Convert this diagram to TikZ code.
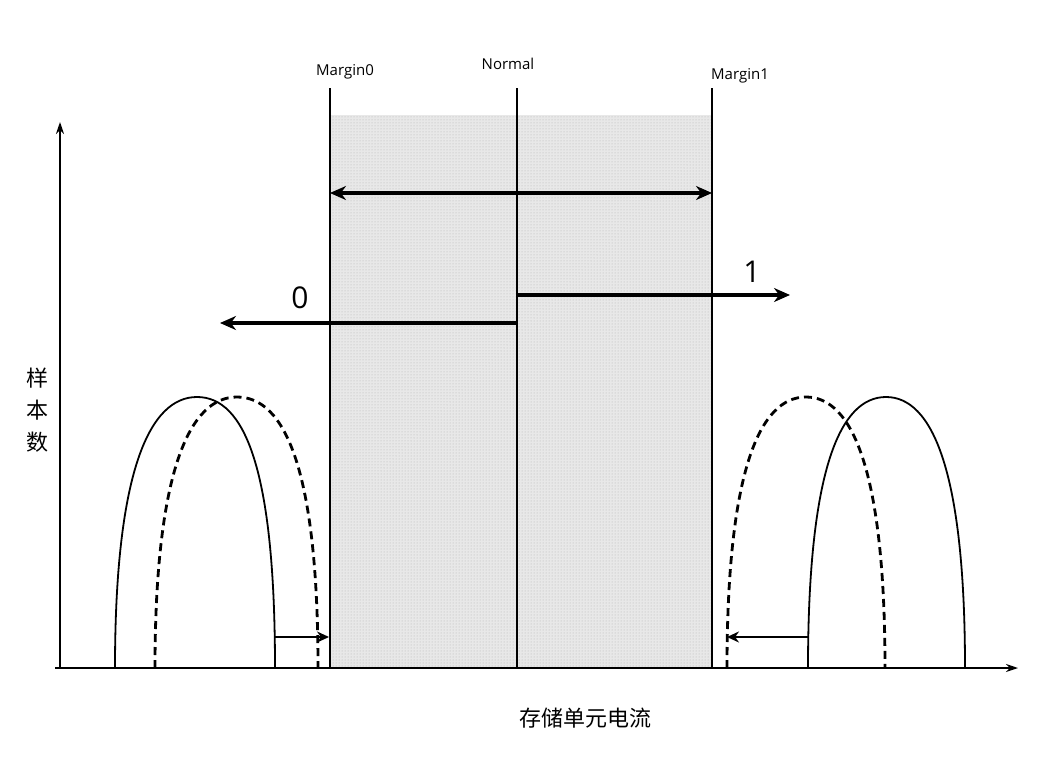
\documentclass[tikz,border=0pt]{standalone}
\usepackage{fontspec}
\setmainfont{Open Sans}
\newfontfamily\cjk{Noto Sans CJK SC}
\usetikzlibrary{arrows.meta,patterns}
\begin{document}
\begin{tikzpicture}[x=1pt,y=-1pt,
  ax/.style={line width=1.6pt,-{Stealth[length=12pt,width=8pt]}},
  vl/.style={line width=1.6pt},
  fat/.style={line width=3.5pt},
  cv/.style={line width=1.8pt},
  dcv/.style={line width=2.8pt,dash pattern=on 8pt off 5pt},
  lab/.style={font=\fontsize{15}{17}\selectfont}]
\useasboundingbox (0,0) rectangle (1044,768);
\fill[gray!18] (330,115) rectangle (712,668);
\fill[pattern=dots,pattern color=gray!60] (330,115) rectangle (712,668);
\coordinate (o) at (60,668);
\coordinate (ytop) at (60,122);
\coordinate (xl) at (55,668);
\coordinate (xr) at (1018,668);
\draw[ax] (o) -- (ytop);
\draw[ax] (xl) -- (xr);
\coordinate (m0t) at (330,88); \coordinate (m0b) at (330,668);
\coordinate (nt) at (517,88); \coordinate (nb) at (517,668);
\coordinate (m1t) at (712,88); \coordinate (m1b) at (712,668);
\draw[vl] (m0t)--(m0b); \draw[vl] (nt)--(nb); \draw[vl] (m1t)--(m1b);
\node[lab] (lm0) at (345,72) {Margin0};
\node[lab] (ln) at (508,64) {Normal};
\node[lab] (lm1) at (740,76) {Margin1};
\coordinate (da) at (330,193); \coordinate (db) at (712,193);
\draw[fat,{Stealth[length=16pt,width=14pt]}-{Stealth[length=16pt,width=14pt]}] (da)--(db);
\coordinate (r1) at (517,295); \coordinate (r2) at (790,295);
\coordinate (l1) at (517,323); \coordinate (l2) at (220,323);
\draw[fat,-{Stealth[length=16pt,width=14pt]}] (l1) -- (l2);
\draw[fat,-{Stealth[length=16pt,width=14pt]}] (r1)--(r2);
\draw[vl] (l1)--(r1);
\node[font=\fontsize{30}{32}\selectfont] (z) at (300,298) {0};
\node[font=\fontsize{30}{32}\selectfont] (one) at (752,272) {1};
\node[font=\cjk\fontsize{22}{24}\selectfont,align=center,inner sep=0pt] (yl) at (38,410) {样\\[8pt]本\\[8pt]数};
\node[font=\cjk\fontsize{22}{24}\selectfont] (xlab) at (585,718) {存储单元电流};
\draw[cv] (115,668) .. controls (115,470) and (150,397) .. (197,397) .. controls (245,397) and (275,470) .. (275,668);
\draw[dcv] (155,668) .. controls (155,470) and (190,397) .. (237,397) .. controls (285,397) and (318,470) .. (318,668);
\draw[dcv] (727,668) .. controls (727,470) and (760,397) .. (806,397) .. controls (852,397) and (885,470) .. (885,668);
\draw[cv] (808,668) .. controls (808,470) and (840,397) .. (886,397) .. controls (932,397) and (965,470) .. (965,668);
\coordinate (a1) at (275,637); \coordinate (a2) at (329,637);
\coordinate (b1) at (808,637); \coordinate (b2) at (727,637);
\draw[line width=2.8pt,-{Stealth[length=12pt,width=11pt]}] (a1)--(a2);
\draw[line width=2.8pt,-{Stealth[length=12pt,width=11pt]}] (b1)--(b2);
\end{tikzpicture}
\end{document}
